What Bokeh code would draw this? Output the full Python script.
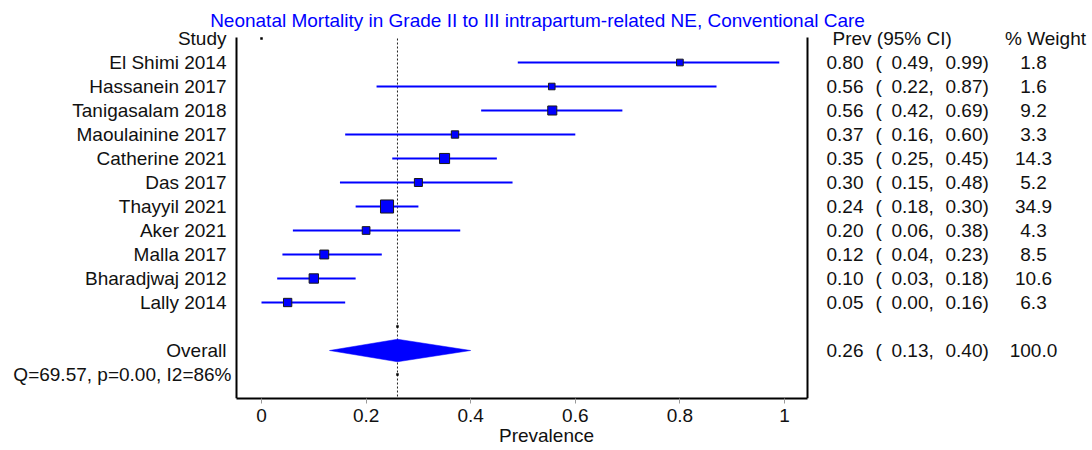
import math
from bokeh.plotting import figure
from bokeh.models import ColumnDataSource, Range1d, FixedTicker
from bokeh.core.properties import value
from bokeh.embed import file_html
from bokeh.resources import INLINE

# ---------------- data ----------------
title_text = "Neonatal Mortality in Grade II to III intrapartum-related NE, Conventional Care"
studies = ["El Shimi 2014", "Hassanein 2017", "Tanigasalam 2018", "Maoulainine 2017",
           "Catherine 2021", "Das 2017", "Thayyil 2021", "Aker 2021", "Malla 2017",
           "Bharadjwaj 2012", "Lally 2014"]
prev = [0.80, 0.555, 0.556, 0.37, 0.35, 0.30, 0.24, 0.20, 0.12, 0.10, 0.05]
lower = [0.49, 0.22, 0.42, 0.16, 0.25, 0.15, 0.18, 0.06, 0.04, 0.03, 0.00]
upper = [0.99, 0.87, 0.69, 0.60, 0.45, 0.48, 0.30, 0.38, 0.23, 0.18, 0.16]
weight = [1.8, 1.6, 9.2, 3.3, 14.3, 5.2, 34.9, 4.3, 8.5, 10.6, 6.3]
prev_txt = ["0.80", "0.56", "0.56", "0.37", "0.35", "0.30", "0.24", "0.20", "0.12", "0.10", "0.05"]
overall_label = "Overall"
overall_prev = 0.26
overall_lower = 0.13
overall_upper = 0.40
overall_weight = 100.0
heterogeneity = "Q=69.57, p=0.00, I2=86%"
col_headers = ["Study", "Prev (95% CI)", "% Weight"]
x_ticks = [0, 0.2, 0.4, 0.6, 0.8, 1]
x_tick_labels = ["0", "0.2", "0.4", "0.6", "0.8", "1"]
x_label = "Prevalence"

# ---------------- layout ----------------
W, H = 1092, 450
PX = 523.0          # pixels per unit of prevalence
X0 = 261.0          # pixel of prevalence 0
ROW = 24.0          # pixels per row
FH = 398.0          # frame height (frame bottom = x axis)
FONT = value("Liberation Sans")
FS = "19px"
TXT = "#111111"
BLUE = "#0000ff"


def xv(px):
    return (px - X0) / PX


n = len(studies)
row_y = [-(i + 1) for i in range(n)]
overall_y = -(n + 2)
het_y = -(n + 3)
axis_row = -(n + 4)


def yv(py):
    return axis_row + (FH - py) / ROW


p = figure(width=W, height=H, output_backend="svg", toolbar_location=None,
           x_range=Range1d(xv(0), xv(W)),
           y_range=Range1d(axis_row, axis_row + FH / ROW),
           y_axis_location=None, x_axis_location="below",
           min_border_left=0, min_border_right=0, min_border_top=0,
           min_border_bottom=H - int(FH))
p.xgrid.visible = False
p.ygrid.visible = False
p.outline_line_color = None
p.background_fill_color = "white"
p.border_fill_color = "white"

# x axis
ax = p.xaxis[0]
ax.ticker = FixedTicker(ticks=x_ticks, minor_ticks=[])
ax.major_label_overrides = {t: s for t, s in zip(x_ticks, x_tick_labels)}
ax.bounds = (xv(236), xv(807))
ax.axis_line_width = 2
ax.axis_line_color = "black"
ax.major_tick_line_color = "#999999"
ax.major_tick_line_width = 1
ax.major_tick_out = 5
ax.major_tick_in = 0
ax.minor_tick_line_color = None
ax.major_label_text_font = "Liberation Sans"
ax.major_label_text_font_size = FS
ax.major_label_text_color = TXT
ax.major_label_standoff = 5
ax.axis_label = x_label
ax.axis_label_text_font = "Liberation Sans"
ax.axis_label_text_font_size = FS
ax.axis_label_text_font_style = "normal"
ax.axis_label_text_color = TXT
ax.axis_label_standoff = 0

top_y = yv(37)
# frame lines left / right
p.segment(x0=[xv(236), xv(807)], y0=[top_y, top_y],
          x1=[xv(236), xv(807)], y1=[axis_row, axis_row],
          line_color="black", line_width=2)

# dotted line at overall estimate
p.segment(x0=[overall_prev], y0=[yv(38)], x1=[overall_prev], y1=[axis_row],
          line_color="#222222", line_width=1, line_dash="2 2")

# confidence intervals
src = ColumnDataSource(dict(study=studies, prev=prev, lower=lower, upper=upper,
                            weight=weight, y=row_y,
                            size=[4.8 + 1.4 * math.sqrt(w) for w in weight],
                            prev_txt=prev_txt,
                            lo_txt=["%.2f," % v for v in lower],
                            hi_txt=["%.2f)" % v for v in upper],
                            w_txt=["%.1f" % w for w in weight]))
p.segment(x0="lower", y0="y", x1="upper", y1="y", source=src,
          line_color=BLUE, line_width=2)
p.scatter(x="prev", y="y", size="size", marker="square", source=src,
          fill_color=BLUE, line_color="#1a1a1a", line_width=1)

# overall diamond
dh = 0.47
p.patch(x=[overall_lower, overall_prev, overall_upper, overall_prev],
        y=[overall_y, overall_y + dh, overall_y, overall_y - dh],
        fill_color=BLUE, line_color=BLUE, line_width=0.5)

# small stray dots (as in original)
p.scatter(x=[0, overall_prev, overall_prev], y=[0, -(n + 1), het_y], marker="square",
          size=2.5, fill_color="black", line_color=None)

# left labels
text_kw = dict(text_font=FONT, text_font_size=FS, text_color=TXT, text_baseline="middle")
p.text(x=[xv(226)] * (n + 2), y=[0] + row_y + [overall_y],
       text=[col_headers[0]] + studies + [overall_label], text_align="right", **text_kw)
p.text(x=[xv(231)], y=[het_y], text=[heterogeneity], text_align="right", **text_kw)

# right columns
p.text(x=[xv(832)], y=[0], text=[col_headers[1]], text_align="left", **text_kw)
p.text(x=[xv(1045)], y=[0], text=[col_headers[2]], text_align="center", **text_kw)

ov_src = ColumnDataSource(dict(y=[overall_y], prev_txt=["%.2f" % overall_prev],
                               lo_txt=["%.2f," % overall_lower],
                               hi_txt=["%.2f)" % overall_upper],
                               w_txt=["%.1f" % overall_weight]))
for s in (src, ov_src):
    p.text(x=xv(826), y="y", text="prev_txt", source=s, text_align="left", **text_kw)
    p.text(x=xv(875), y="y", text=value("("), source=s, text_align="left", **text_kw)
    p.text(x=xv(891), y="y", text="lo_txt", source=s, text_align="left", **text_kw)
    p.text(x=xv(945), y="y", text="hi_txt", source=s, text_align="left", **text_kw)
    p.text(x=xv(1033), y="y", text="w_txt", source=s, text_align="center", **text_kw)

# title
p.text(x=[xv(537)], y=[yv(19.5)], text=[title_text],
       text_align="center", text_baseline="middle", text_font=FONT,
       text_font_size=FS, text_color=BLUE)

open("out.html", "w").write(file_html(p, INLINE))
